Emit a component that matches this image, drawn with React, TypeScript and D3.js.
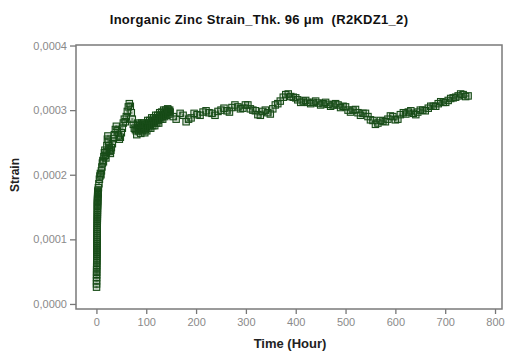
import React, { useRef, useEffect } from 'react';
import * as d3 from 'd3';

// strain values are given in units of 1e-4
const colHours = [0.2, 0.25, 0.3, 0.35, 0.4, 0.45, 0.5, 0.55, 0.6, 0.65, 0.7, 0.75, 0.8, 0.85, 0.9, 0.95, 1.0, 1.05, 1.1, 1.15, 1.2, 1.25, 1.3, 1.35, 1.4, 1.45, 1.5, 1.55, 1.6, 1.65, 1.7, 1.75, 1.8, 1.85, 1.9, 1.95, 2.0, 2.05, 2.1, 2.15, 2.2, 2.25, 2.3, 2.35, 2.4, 2.45, 2.5, 2.6, 2.7, 2.8, 2.9, 3.0, 3.1, 3.2];
const colStrain = [0.26, 0.31, 0.36, 0.41, 0.45, 0.49, 0.53, 0.57, 0.6, 0.64, 0.67, 0.7, 0.73, 0.76, 0.79, 0.82, 0.85, 0.88, 0.91, 0.94, 0.97, 1.0, 1.03, 1.06, 1.09, 1.12, 1.15, 1.18, 1.21, 1.24, 1.27, 1.3, 1.33, 1.36, 1.39, 1.42, 1.45, 1.48, 1.51, 1.53, 1.55, 1.57, 1.59, 1.61, 1.63, 1.65, 1.67, 1.69, 1.7, 1.71, 1.72, 1.73, 1.74, 1.76];

const riseHours = [4, 5, 6, 7, 8, 9, 10, 11, 12, 13, 14, 15, 16, 17, 18, 19, 20, 21, 22, 23, 24, 25, 26, 27, 28, 29, 30, 32, 34, 36, 38, 40, 42, 44, 46, 48, 50, 52, 54, 56, 58, 60, 62, 64, 66, 68, 70, 72, 74, 76, 78];
const riseStrain = [1.8, 1.86, 1.93, 1.98, 2.02, 2.0, 2.06, 2.12, 2.18, 2.22, 2.2, 2.28, 2.34, 2.38, 2.3, 2.26, 2.35, 2.45, 2.55, 2.6, 2.52, 2.45, 2.4, 2.36, 2.33, 2.38, 2.42, 2.48, 2.56, 2.62, 2.7, 2.75, 2.68, 2.6, 2.55, 2.58, 2.65, 2.72, 2.8, 2.86, 2.82, 2.9, 2.98, 3.05, 3.1, 3.06, 2.96, 2.86, 2.78, 2.72, 2.7];

const denseHours = [80, 82, 84, 86, 88, 90, 92, 94, 96, 98, 100, 102, 104, 106, 108, 110, 112, 114, 116, 118, 120, 122, 124, 126, 128, 130, 132, 134, 136, 138, 140, 142, 144, 146, 148];
const denseStrain = [2.68, 2.72, 2.76, 2.73, 2.7, 2.74, 2.78, 2.75, 2.72, 2.7, 2.74, 2.78, 2.8, 2.77, 2.76, 2.8, 2.84, 2.82, 2.8, 2.84, 2.88, 2.86, 2.84, 2.88, 2.92, 2.9, 2.9, 2.93, 2.96, 2.94, 2.96, 2.98, 3.0, 2.98, 2.97];
const denseHoursB = [81, 83, 85, 87, 89, 91, 93, 95, 97, 99, 101, 103, 105, 107, 109, 111, 113, 115, 117, 119, 121, 123, 125, 127, 129, 131, 133, 135, 137, 139, 141, 143, 145, 147];
const denseStrainB = [2.62, 2.8, 2.68, 2.78, 2.64, 2.8, 2.68, 2.8, 2.65, 2.78, 2.68, 2.84, 2.72, 2.84, 2.72, 2.88, 2.76, 2.88, 2.76, 2.92, 2.8, 2.92, 2.8, 2.96, 2.86, 2.97, 2.86, 3.0, 2.9, 3.0, 2.92, 3.02, 2.94, 3.0];

const lateHours = [154, 168, 180, 190, 202, 214, 226, 238, 250, 262, 272, 284, 294, 304, 314, 324, 334, 344, 354, 364, 375, 385, 395, 404, 415, 424, 435, 445, 455, 465, 475, 485, 495, 505, 515, 525, 535, 545, 555, 565, 575, 585, 595, 605, 616, 626, 636, 645, 655, 666, 676, 686, 696, 706, 716, 726, 736, 746];
const lateStrain = [2.9, 2.95, 2.82, 2.88, 2.93, 2.97, 2.96, 2.92, 3.0, 2.99, 3.04, 3.05, 3.03, 3.08, 3.0, 2.93, 2.98, 2.96, 3.02, 3.1, 3.2, 3.25, 3.2, 3.16, 3.14, 3.12, 3.12, 3.11, 3.1, 3.09, 3.08, 3.08, 3.06, 3.0, 3.0, 2.96, 2.95, 2.9, 2.84, 2.8, 2.83, 2.86, 2.9, 2.86, 2.96, 2.97, 2.95, 2.97, 3.0, 3.03, 3.06, 3.1, 3.12, 3.15, 3.19, 3.22, 3.24, 3.22];
const lateHoursB = [160, 174, 185, 196, 208, 220, 232, 244, 256, 267, 278, 289, 299, 309, 319, 329, 339, 349, 359, 369, 380, 390, 400, 410, 420, 430, 440, 450, 460, 470, 480, 490, 500, 510, 520, 530, 540, 550, 560, 570, 580, 590, 600, 610, 621, 631, 641, 650, 660, 671, 681, 691, 701, 711, 721, 731, 741];
const lateStrainB = [2.86, 2.92, 2.86, 2.95, 2.92, 2.99, 2.95, 2.98, 3.03, 2.97, 3.08, 3.02, 3.08, 3.02, 2.99, 2.92, 3.0, 2.94, 3.08, 3.14, 3.24, 3.21, 3.19, 3.12, 3.15, 3.1, 3.14, 3.08, 3.12, 3.06, 3.1, 3.04, 3.05, 2.97, 3.01, 2.92, 2.95, 2.85, 2.78, 2.84, 2.82, 2.91, 2.85, 2.93, 2.94, 2.99, 2.93, 3.0, 2.99, 3.06, 3.06, 3.13, 3.12, 3.18, 3.2, 3.25, 3.21];

const xTickValues = [0, 100, 200, 300, 400, 500, 600, 700, 800];
const yTickValues = [0, 1, 2, 3, 4];

const W = 505;
const H = 352;
const frame = { left: 76, right: 502, top: 45, bottom: 309 };
const green = '#184c18';
const font = '"Liberation Sans", Arial, sans-serif';

export default function App() {
    const svgRef = useRef<SVGSVGElement>(null);

    useEffect(() => {
        const svg = d3.select(svgRef.current);
        svg.selectAll('*').remove();

        const x = d3.scaleLinear().domain([-41, 814]).range([frame.left, frame.right]);
        const y = d3.scaleLinear().domain([-0.078, 4.008]).range([frame.bottom, frame.top]);

        const points: [number, number][] = [];
        const add = (hs: number[], vs: number[]) => hs.forEach((h, i) => points.push([h, vs[i]]));
        add(colHours, colStrain);
        add(riseHours, riseStrain);
        add(denseHours, denseStrain);
        add(denseHoursB, denseStrainB);
        add(lateHours, lateStrain);
        add(lateHoursB, lateStrainB);

        svg.append('text')
            .attr('x', 259)
            .attr('y', 24)
            .attr('text-anchor', 'middle')
            .style('font-family', font)
            .style('font-weight', 'bold')
            .style('font-size', '13px')
            .style('letter-spacing', '0.3px')
            .style('white-space', 'pre')
            .attr('fill', '#111')
            .text('Inorganic Zinc Strain_Thk. 96 \u03bcm  (R2KDZ1_2)');

        const yAxis = svg.append('g')
            .attr('transform', `translate(${frame.left},0)`)
            .call(d3.axisLeft(y).tickValues(yTickValues).tickSize(6).tickPadding(3)
                .tickFormat(d => (Number(d) / 10000).toFixed(4).replace('.', ',')));
        const xAxis = svg.append('g')
            .attr('transform', `translate(0,${frame.bottom})`)
            .call(d3.axisBottom(x).tickValues(xTickValues).tickSize(5).tickPadding(4));

        [xAxis, yAxis].forEach(a => {
            a.select('.domain').remove();
            a.selectAll('line').attr('stroke', '#777').attr('stroke-width', 1.3);
            a.selectAll('text')
                .style('font-family', font)
                .style('font-size', '11px')
                .attr('fill', '#8a8a8a');
        });

        svg.append('rect')
            .attr('x', frame.left)
            .attr('y', frame.top)
            .attr('width', frame.right - frame.left)
            .attr('height', frame.bottom - frame.top)
            .attr('fill', 'none')
            .attr('stroke', '#7a7a7a')
            .attr('stroke-width', 1.5);

        const marks = svg.append('g')
            .selectAll('g')
            .data(points)
            .join('g')
            .attr('transform', d => `translate(${x(d[0])},${y(d[1])})`);
        marks.append('rect')
            .attr('x', -3.2).attr('y', -3.2).attr('width', 6.4).attr('height', 6.4)
            .attr('fill', green).attr('fill-opacity', 0.18)
            .attr('stroke', green).attr('stroke-width', 1.1);
        marks.append('rect')
            .attr('x', -1.1).attr('y', -1.1).attr('width', 2.2).attr('height', 2.2)
            .attr('fill', green).attr('fill-opacity', 0.55);

        svg.append('text')
            .attr('transform', `translate(19,175) rotate(-90)`)
            .attr('text-anchor', 'middle')
            .style('font-family', font)
            .style('font-weight', 'bold')
            .style('font-size', '12px')
            .attr('fill', '#222')
            .text('Strain');

        svg.append('text')
            .attr('x', 290)
            .attr('y', 348)
            .attr('text-anchor', 'middle')
            .style('font-family', font)
            .style('font-weight', 'bold')
            .style('font-size', '13px')
            .attr('fill', '#222')
            .text('Time (Hour)');
    }, []);

    return (
        <svg
            ref={svgRef}
            width={W}
            height={H}
            style={{ position: 'absolute', left: 0, top: 0, background: '#fff' }}
        />
    );
}
